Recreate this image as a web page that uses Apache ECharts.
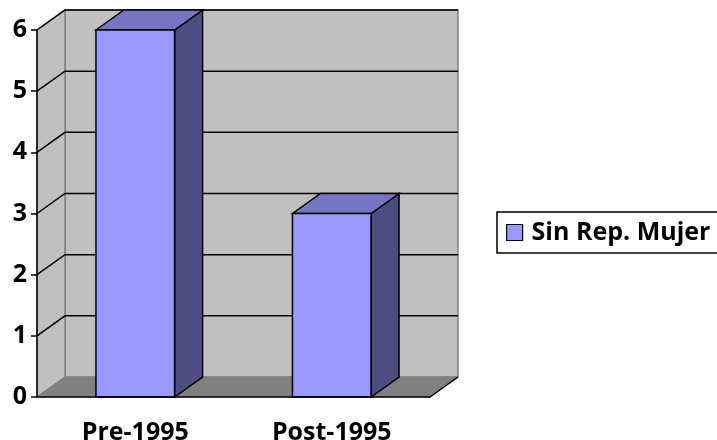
<!DOCTYPE html>
<html>
<head>
<meta charset="utf-8">
<script src="https://cdn.jsdelivr.net/npm/echarts@6/dist/echarts.min.js"></script>
<style>
  html, body { margin: 0; padding: 0; background: #fff; }
  #chart { width: 717px; height: 440px; }
</style>
</head>
<body>
<div id="chart"></div>
<script>
const categories = ["Pre-1995", "Post-1995"];
const values = [6, 3];
const seriesName = "Sin Rep. Mujer";
const yTicks = [0, 1, 2, 3, 4, 5, 6];

// depth of the fake 3D box, in pixels
const DX = 28;
const DY = -20;
const FONT = "'Open Sans', sans-serif";

const chart = echarts.init(document.getElementById("chart"));

// ── walls, floor and grid lines ────────────────────────────────────────────
function renderRoom(params, api) {
  const cs = params.coordSys;
  const x0 = cs.x, x1 = cs.x + cs.width;
  const yTop = cs.y, yBot = cs.y + cs.height;
  const children = [];

  // back wall
  children.push({
    type: "rect",
    shape: { x: x0 + DX, y: yTop + DY, width: cs.width, height: cs.height },
    style: { fill: "#c0c0c0", stroke: "#808080", lineWidth: 1.5 },
  });
  // left wall
  children.push({
    type: "polygon",
    shape: { points: [[x0, yTop], [x0 + DX, yTop + DY], [x0 + DX, yBot + DY], [x0, yBot]] },
    style: { fill: "#c0c0c0", stroke: "#808080", lineWidth: 1.5 },
  });
  // floor
  children.push({
    type: "polygon",
    shape: { points: [[x0, yBot], [x0 + DX, yBot + DY], [x1 + DX, yBot + DY], [x1, yBot]] },
    style: { fill: "#808080", stroke: "#808080", lineWidth: 1 },
  });
  // floor right edge
  children.push({
    type: "line",
    shape: { x1: x1, y1: yBot, x2: x1 + DX, y2: yBot + DY },
    style: { stroke: "#000", lineWidth: 1.5 },
  });

  yTicks.forEach((v) => {
    if (v === 0) return;
    const y = api.coord([0, v])[1];
    children.push({
      type: "polyline",
      shape: { points: [[x0, y], [x0 + DX, y + DY], [x1 + DX, y + DY]] },
      style: { stroke: "#000", lineWidth: 1.5, fill: null },
    });
  });

  return { type: "group", children: children };
}

// ── 3D bars ────────────────────────────────────────────────────────────────
function renderBar(params, api) {
  const top = api.coord([api.value(0), api.value(1)]);
  const base = api.coord([api.value(0), 0]);
  const band = api.size([1, 0])[0];
  const w = band * 0.4;
  const x = top[0] - w / 2;
  const ty = top[1], by = base[1];
  const edge = { stroke: "#000", lineWidth: 1.5 };

  return {
    type: "group",
    children: [
      {
        type: "polygon",
        shape: { points: [[x + w, ty], [x + w + DX, ty + DY], [x + w + DX, by + DY], [x + w, by]] },
        style: Object.assign({ fill: "#4d4d80" }, edge),
      },
      {
        type: "polygon",
        shape: { points: [[x, ty], [x + DX, ty + DY], [x + w + DX, ty + DY], [x + w, ty]] },
        style: Object.assign({ fill: "#7676c4" }, edge),
      },
      {
        type: "rect",
        shape: { x: x, y: ty, width: w, height: by - ty },
        style: Object.assign({ fill: "#9999ff" }, edge),
      },
    ],
  };
}

const option = {
  animation: false,
  grid: { left: 37, top: 30, width: 393, height: 367, outerBoundsMode: "none" },
  legend: {
    data: [seriesName],
    left: 497,
    top: 212,
    orient: "vertical",
    padding: [8, 10, 8, 9],
    borderColor: "#000",
    borderWidth: 1.5,
    backgroundColor: "#fff",
    icon: "rect",
    itemWidth: 16,
    itemHeight: 16,
    itemGap: 0,
    itemStyle: { borderColor: "#000", borderWidth: 1.2 },
    textStyle: { fontFamily: FONT, fontWeight: "bold", fontSize: 25, color: "#000", padding: [0, 0, 0, 4] },
  },
  xAxis: {
    type: "category",
    data: categories,
    axisLine: { lineStyle: { color: "#000", width: 1.5 } },
    axisTick: { length: 6, lineStyle: { color: "#000", width: 1.5 } },
    axisLabel: { margin: 23, fontFamily: FONT, fontWeight: "bold", fontSize: 25, color: "#000" },
    splitLine: { show: false },
    z: 10,
  },
  yAxis: {
    type: "value",
    min: 0,
    max: 6,
    interval: 1,
    axisLine: { show: true, lineStyle: { color: "#000", width: 1.5 } },
    axisTick: { show: true, length: 6, lineStyle: { color: "#000", width: 1.5 } },
    axisLabel: { margin: 10, fontFamily: FONT, fontWeight: "bold", fontSize: 25, color: "#000" },
    splitLine: { show: false },
    z: 10,
  },
  series: [
    {
      name: "room",
      type: "custom",
      renderItem: renderRoom,
      data: [[0, 0]],
      silent: true,
      z: 1,
    },
    {
      name: seriesName,
      type: "custom",
      renderItem: renderBar,
      itemStyle: { color: "#9999ff" },
      data: values.map((v, i) => [i, v]),
      z: 5,
    },
  ],
};

chart.setOption(option);
</script>
</body>
</html>
